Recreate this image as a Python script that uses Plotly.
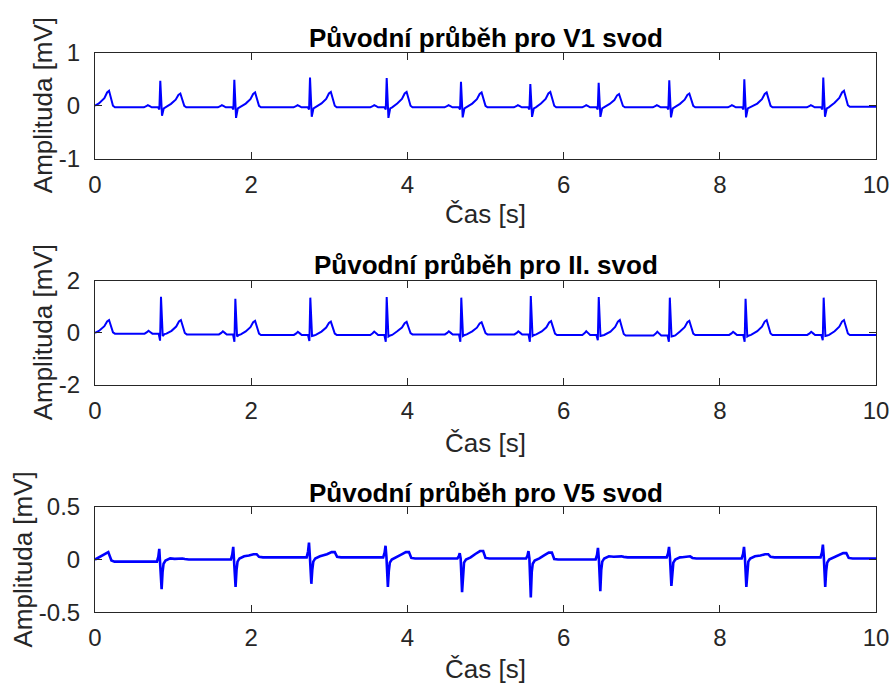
import plotly.graph_objects as go

# ---------------- measured beat landmarks (time in s, amplitude in mV) ----------------
# Lead V1
v1_r_time = [0.836, 1.784, 2.753, 3.735, 4.686, 5.574, 6.449, 7.353, 8.314, 9.325]
v1_r_amp = [0.47, 0.49, 0.53, 0.52, 0.45, 0.41, 0.43, 0.48, 0.50, 0.53]
v1_q_amp = [-0.07, -0.07, -0.07, -0.07, -0.07, -0.07, -0.07, -0.07, -0.07, -0.07]
v1_s_amp = [-0.19, -0.23, -0.21, -0.23, -0.22, -0.21, -0.21, -0.22, -0.22, -0.21]
v1_p_amp = [0.01, 0.01, 0.01, 0.01, 0.01, 0.01, 0.01, 0.01, 0.01, 0.01]
v1_t_time = [0.18, 1.093, 2.05, 3.02, 3.99, 4.95, 5.83, 6.71, 7.61, 8.60, 9.59]
v1_t_amp = [0.28, 0.23, 0.25, 0.26, 0.26, 0.25, 0.26, 0.22, 0.23, 0.25, 0.28]
v1_base = [-0.03, -0.03, -0.03, -0.03, -0.03, -0.03, -0.03, -0.03, -0.03, -0.03, -0.02]

# Lead II
ii_r_time = [0.845, 1.797, 2.757, 3.735, 4.690, 5.580, 6.450, 7.360, 8.330, 9.330]
ii_r_amp = [1.38, 1.31, 1.35, 1.37, 1.35, 1.41, 1.37, 1.35, 1.31, 1.35]
ii_q_amp = [-0.30, -0.34, -0.31, -0.34, -0.34, -0.34, -0.28, -0.34, -0.34, -0.28]
ii_s_amp = [-0.12, -0.14, -0.12, -0.14, -0.12, -0.12, -0.12, -0.14, -0.14, -0.12]
ii_p_amp = [0.08, 0.06, 0.04, 0.05, 0.06, 0.06, 0.06, 0.04, 0.04, 0.04]
ii_t_time = [0.18, 1.10, 2.05, 3.02, 3.99, 4.95, 5.84, 6.72, 7.61, 8.60, 9.59]
ii_t_amp = [0.49, 0.49, 0.46, 0.43, 0.42, 0.41, 0.45, 0.49, 0.46, 0.49, 0.49]
ii_base = [-0.03, -0.06, -0.08, -0.08, -0.06, -0.06, -0.08, -0.10, -0.08, -0.08, -0.08]

# Lead V5
v5_r_time = [0.823, 1.770, 2.740, 3.720, 4.670, 5.550, 6.440, 7.350, 8.310, 9.320]
v5_r_amp = [0.10, 0.12, 0.16, 0.13, 0.06, 0.08, 0.11, 0.12, 0.12, 0.14]
v5_s_amp = [-0.28, -0.26, -0.23, -0.26, -0.31, -0.36, -0.30, -0.25, -0.26, -0.26]
v5_t_time = [0.17, 1.10, 2.05, 3.05, 4.00, 4.95, 5.83, 6.72, 7.60, 8.60, 9.60]
v5_t_amp = [0.07, 0.01, 0.05, 0.07, 0.07, 0.08, 0.065, 0.03, 0.03, 0.05, 0.06]
v5_base = [-0.02, 0.00, 0.02, 0.02, 0.01, 0.01, 0.00, 0.02, 0.01, 0.02, 0.01]

x_ticks = [0, 2, 4, 6, 8, 10]
lead_titles = ["Původní průběh pro V1 svod", "Původní průběh pro II. svod", "Původní průběh pro V5 svod"]
y_ticks = [[-1, 0, 1], [-2, 0, 2], [-0.5, 0, 0.5]]
y_tick_text = [["-1", "0", "1"], ["-2", "0", "2"], ["-0.5", "0", "0.5"]]
y_ranges = [[-1, 1], [-2, 2], [-0.5, 0.5]]
x_label = "Čas [s]"
y_label = "Amplituda [mV]"


def t_wave(tt, amp, b):
    """Vertices of a T wave that peaks at (tt, amp) over baseline b."""
    a = amp - b
    return [(tt - 0.12, b + 0.25 * a), (tt - 0.06, b + 0.55 * a), (tt - 0.025, b + 0.9 * a),
            (tt, amp), (tt + 0.025, b + 0.55 * a), (tt + 0.05, b + 0.1 * a), (tt + 0.075, b)]


def limb_lead(r_t, r_a, q_a, s_a, p_a, t_t, t_a, base):
    """Polyline for the V1 / II traces: leading T, then P-QRS-T per beat."""
    pts = [(0.0, 0.0), (0.05, 0.15 * t_a[0])]
    pts += t_wave(t_t[0], t_a[0], base[0])[1:]
    for i, tr in enumerate(r_t):
        b = base[i]
        tp = tr - 0.16
        pts += [(tp - 0.05, b), (tp - 0.02, (b + p_a[i]) / 2), (tp, p_a[i]),
                (tp + 0.025, (b + p_a[i]) / 2), (tp + 0.05, b),
                (tr - 0.03, b), (tr - 0.012, q_a[i]), (tr, r_a[i]),
                (tr + 0.022, s_a[i]), (tr + 0.045, b - 0.02), (tr + 0.07, b)]
        nb = base[i + 1]
        pts += t_wave(t_t[i + 1], t_a[i + 1], nb)
    pts.append((10.0, base[-1]))
    return [p[0] for p in pts], [p[1] for p in pts]


def chest_lead(r_t, r_a, s_a, t_t, t_a, base):
    """Polyline for the V5 trace: small R, deep S, slow recovery, flat T."""
    pts = [(0.0, 0.0), (0.08, 0.03), (t_t[0], t_a[0]), (t_t[0] + 0.04, base[0] + 0.01),
           (t_t[0] + 0.08, base[0])]
    for i, tr in enumerate(r_t):
        b = base[i]
        nb = base[i + 1]
        pts += [(tr - 0.03, b), (tr - 0.012, b + 0.4 * (r_a[i] - b)), (tr, r_a[i]),
                (tr + 0.012, b), (tr + 0.03, s_a[i]), (tr + 0.042, nb - 0.12),
                (tr + 0.055, nb - 0.04), (tr + 0.08, nb - 0.01), (tr + 0.14, nb + 0.01)]
        tt, ta = t_t[i + 1], t_a[i + 1]
        pts += [(tt - 0.08, nb + 0.6 * (ta - nb)), (tt - 0.02, ta), (tt + 0.02, ta),
                (tt + 0.05, nb + 0.005), (tt + 0.1, nb)]
    pts.append((10.0, base[-1]))
    return [p[0] for p in pts], [p[1] for p in pts]


traces = [
    limb_lead(v1_r_time, v1_r_amp, v1_q_amp, v1_s_amp, v1_p_amp, v1_t_time, v1_t_amp, v1_base),
    limb_lead(ii_r_time, ii_r_amp, ii_q_amp, ii_s_amp, ii_p_amp, ii_t_time, ii_t_amp, ii_base),
    chest_lead(v5_r_time, v5_r_amp, v5_s_amp, v5_t_time, v5_t_amp, v5_base),
]
line_widths = [2.0, 2.0, 2.6]

# ---------------- layout geometry (pixels) ----------------
W, H = 891, 684
left, right = 95, 876
axes_px = [(52.7, 158.7), (280.7, 385.0), (506.7, 612.3)]  # top, bottom of each panel
title_px = [37.5, 265.0, 492.5]
xlabel_px = [214.0, 443.0, 669.0]
ylabel_x_px = [42.5, 42.5, 22.0]

FONT = "Liberation Sans, Arial, Helvetica, sans-serif"
AX_COLOR = "#262626"

fig = go.Figure()
annotations = []
layout_axes = {}
for k, (xs, ys) in enumerate(traces):
    n = "" if k == 0 else str(k + 1)
    fig.add_trace(go.Scatter(x=xs, y=ys, mode="lines", xaxis="x" + n, yaxis="y" + n,
                             line=dict(color="#0000FF", width=line_widths[k]),
                             showlegend=False, hoverinfo="skip"))
    top, bot = axes_px[k]
    dom = [1 - bot / H, 1 - top / H]
    common = dict(showgrid=False, zeroline=False, showline=True, linecolor=AX_COLOR,
                  linewidth=1, mirror="ticks", ticks="inside", ticklen=7, tickwidth=1,
                  tickcolor=AX_COLOR, automargin=False,
                  tickfont=dict(family=FONT, size=24, color=AX_COLOR))
    layout_axes["xaxis" + n] = dict(common, domain=[0, 1], anchor="y" + n, range=[0, 10],
                                    tickmode="array", tickvals=x_ticks, ticklabelstandoff=4)
    layout_axes["yaxis" + n] = dict(common, domain=dom, anchor="x" + n, range=y_ranges[k],
                                    tickmode="array", tickvals=y_ticks[k],
                                    ticktext=y_tick_text[k], ticklabelstandoff=9)
    annotations.append(dict(text="<b>" + lead_titles[k] + "</b>", xref="paper", yref="paper",
                            x=0.5, y=1 - title_px[k] / H, xanchor="center", yanchor="middle",
                            showarrow=False, font=dict(family=FONT, size=26, color="black")))
    annotations.append(dict(text=x_label, xref="paper", yref="paper",
                            x=0.5, y=1 - xlabel_px[k] / H, xanchor="center", yanchor="middle",
                            showarrow=False, font=dict(family=FONT, size=26, color=AX_COLOR)))
    annotations.append(dict(text=y_label, xref="paper", yref="paper", textangle=-90,
                            x=(ylabel_x_px[k] - left) / (right - left),
                            y=1 - (top + bot) / 2 / H, xanchor="center", yanchor="middle",
                            showarrow=False, font=dict(family=FONT, size=26, color=AX_COLOR)))

fig.update_layout(width=W, height=H,
                  margin=dict(l=left, r=W - right, t=0, b=0, autoexpand=False),
                  paper_bgcolor="white", plot_bgcolor="white",
                  annotations=annotations, **layout_axes)

fig.write_html("out.html")
